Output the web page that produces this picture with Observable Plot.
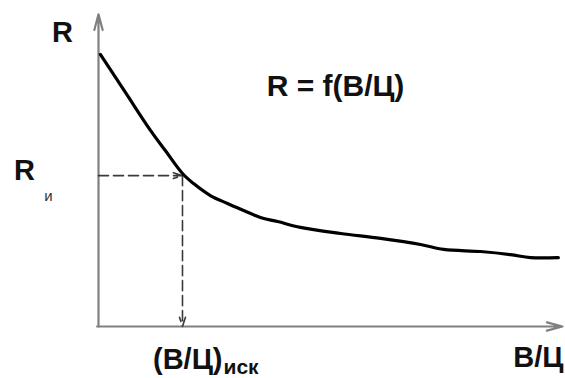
<!DOCTYPE html>
<html>
<head>
<meta charset="utf-8">
<script src="https://cdn.jsdelivr.net/npm/d3@7"></script>
<script src="https://cdn.jsdelivr.net/npm/@observablehq/plot@0.6"></script>
<style>
  html, body { margin: 0; padding: 0; background: #fff; }
  svg { display: block; }
</style>
</head>
<body>
<div id="chart"></div>
<script>
// Curve R = f(В/Ц) (arbitrary units 0–100)
const ratio = [0.4, 5.8, 11.2, 14.4, 18.1, 20.5, 24.1, 27.8, 31.3, 34.9, 38.6, 43.5, 52.2, 60.8, 69.4, 74.4, 82.3, 88.8, 93.1, 99.1];
const resistance = [88.9, 76.5, 64.1, 57.5, 50.0, 46.7, 42.8, 40.2, 37.9, 35.6, 34.3, 32.4, 30.4, 28.8, 26.8, 25.2, 24.5, 23.5, 22.5, 22.5];

// Required point
const ratioRequired = 18.1;
const resistanceRequired = 49.3;

// Axis extents
const xAxisEnd = 100;
const yAxisEnd = 102;

// Labels
const yAxisLabel = "R";
const xAxisLabel = "В/Ц";
const formulaLabel = "R = f(В/Ц)";
const rLabel = "R";
const rSub = "и";
const ratioLabel = "(В/Ц)";
const ratioSub = "иск";

const curve = ratio.map((x, i) => ({x, y: resistance[i]}));
const font = "'Liberation Sans', Arial, sans-serif";

const chart = Plot.plot({
  width: 565,
  height: 378,
  marginLeft: 98,
  marginRight: 3,
  marginTop: 20,
  marginBottom: 52,
  x: {domain: [0, 100], axis: null},
  y: {domain: [0, 100], axis: null},
  style: {fontFamily: font, background: "#fff"},
  marks: [
    // axes
    Plot.arrow([{x1: 0, y1: 0, x2: 0, y2: yAxisEnd}], {
      x1: "x1", y1: "y1", x2: "x2", y2: "y2",
      stroke: "#808080", strokeWidth: 2.2, headLength: 11, headAngle: 30
    }),
    Plot.arrow([{x1: -0.3, y1: 0, x2: xAxisEnd, y2: 0}], {
      x1: "x1", y1: "y1", x2: "x2", y2: "y2",
      stroke: "#808080", strokeWidth: 2.2, headLength: 11, headAngle: 30
    }),
    // dashed guides
    Plot.arrow([{x1: 0, y1: resistanceRequired, x2: ratioRequired, y2: resistanceRequired}], {
      x1: "x1", y1: "y1", x2: "x2", y2: "y2",
      stroke: "#3a3a3a", strokeWidth: 1.6, strokeDasharray: "10,5", headLength: 9, headAngle: 36
    }),
    Plot.arrow([{x1: ratioRequired, y1: resistanceRequired, x2: ratioRequired, y2: 0}], {
      x1: "x1", y1: "y1", x2: "x2", y2: "y2",
      stroke: "#3a3a3a", strokeWidth: 1.6, strokeDasharray: "10,5", headLength: 9, headAngle: 36
    }),
    // curve
    Plot.line(curve, {x: "x", y: "y", stroke: "#000", strokeWidth: 3.2, curve: "catmull-rom"}),
    // labels
    Plot.text([yAxisLabel], {
      x: 0, y: yAxisEnd, text: d => d, dx: -36, dy: 18,
      fontSize: 29, fontWeight: "bold", fill: "#111"
    }),
    Plot.text([rLabel], {
      x: 0, y: resistanceRequired, text: d => d, dx: -74, dy: -5,
      fontSize: 29, fontWeight: "bold", fill: "#111"
    }),
    Plot.text([rSub], {
      x: 0, y: resistanceRequired, text: d => d, dx: -50, dy: 21,
      fontSize: 15, fill: "#333"
    }),
    Plot.text([ratioLabel], {
      x: ratioRequired, y: 0, text: d => d, dx: 40, dy: 33, textAnchor: "end",
      fontSize: 29, fontWeight: "bold", fill: "#111"
    }),
    Plot.text([ratioSub], {
      x: ratioRequired, y: 0, text: d => d, dx: 41, dy: 41, textAnchor: "start",
      fontSize: 21, fontWeight: "bold", fill: "#111"
    }),
    Plot.text([xAxisLabel], {
      x: xAxisEnd, y: 0, text: d => d, dx: 1, dy: 31, textAnchor: "end",
      fontSize: 29, fontWeight: "bold", fill: "#111"
    }),
    Plot.text([formulaLabel], {
      frameAnchor: "top-left", lineAnchor: "middle", text: d => d, dx: 237, dy: 66, textAnchor: "middle",
      fontSize: 30, fontWeight: "bold", fill: "#111"
    })
  ]
});

document.getElementById("chart").appendChild(chart);
</script>
</body>
</html>
